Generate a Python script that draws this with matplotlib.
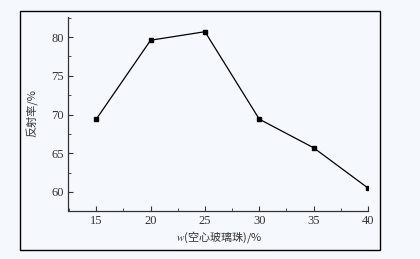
import matplotlib
matplotlib.use("Agg")
import matplotlib.pyplot as plt
from matplotlib.patches import Rectangle
from matplotlib.ticker import MultipleLocator

x_vals = [15, 20, 25, 30, 35, 40]
reflectance = [69.4, 79.6, 80.7, 69.4, 65.7, 60.5]
x_ticks = [15, 20, 25, 30, 35, 40]
y_ticks = [60, 65, 70, 75, 80]

plt.rcParams["font.family"] = ["Liberation Serif", "Noto Sans CJK SC", "DejaVu Sans"]
plt.rcParams["mathtext.fontset"] = "stix"

bg = "#f5f8fd"
fig = plt.figure(figsize=(4.2, 2.59), dpi=100, facecolor=bg)
fig.patches.append(Rectangle((20/420, 1-250/259), 360/420, 239/259, transform=fig.transFigure,
                             fill=False, edgecolor="black", linewidth=1.0))
ax = fig.add_axes([68/420, 1-210.5/259, 300/420, 193.5/259], facecolor=bg)
ax.plot(x_vals, reflectance, color="black", linewidth=0.9, marker="s", markersize=3.5,
        markerfacecolor="black", markeredgecolor="black")
ax.set_xlim(12.4, 40)
ax.set_ylim(57.6, 82.6)
ax.set_xticks(x_ticks)
ax.set_yticks(y_ticks)
ax.xaxis.set_minor_locator(MultipleLocator(2.5))
ax.yaxis.set_minor_locator(MultipleLocator(2.5))
for s in ["top", "right"]:
    ax.spines[s].set_visible(False)
for s in ["left", "bottom"]:
    ax.spines[s].set_color("#333333")
    ax.spines[s].set_linewidth(0.9)
ax.tick_params(which="major", direction="in", length=3.5, width=0.8, color="#333333")
ax.tick_params(which="minor", direction="in", length=2, width=0.6, color="#333333")
ax.tick_params(axis="both", which="major", labelsize=9, pad=3, labelcolor="#333333")

fig.text(32/420, 1-113/259, "反射率/%", rotation=90, ha="center", va="center",
         fontsize=8, family=["Noto Sans CJK SC", "DejaVu Sans"], color="#333333")
fig.text(219/420, 1-237/259, r"$w$(空心玻璃珠)/%", ha="center", va="center",
         fontsize=8, family=["Noto Sans CJK SC", "DejaVu Sans"], color="#333333")

fig.savefig("out.png", dpi=100, facecolor=bg)
